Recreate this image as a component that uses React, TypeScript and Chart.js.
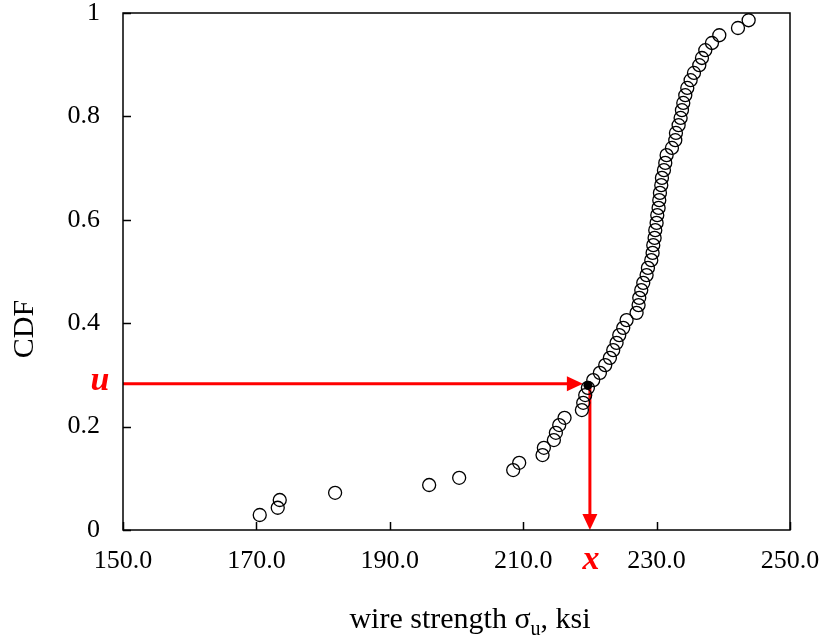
import { useEffect, useRef } from "react";
import { Chart, registerables } from "chart.js";

Chart.register(...registerables);

// Ranked wire-strength samples (ksi) and their empirical CDF values
const strength = [
  170.5, 173.2, 173.5, 181.8, 195.9, 200.4, 208.5, 209.4, 212.9, 213.1,
  214.6, 214.9, 215.4, 216.2, 218.8, 219.0, 219.3, 219.7, 220.5, 221.5,
  222.3, 223.0, 223.5, 224.0, 224.4, 225.0, 225.5, 227.0, 227.3, 227.4,
  227.7, 228.0, 228.5, 228.7, 229.2, 229.4, 229.5, 229.7, 229.8, 230.0,
  230.1, 230.3, 230.4, 230.5, 230.7, 230.8, 231.1, 231.3, 231.5, 232.3,
  232.8, 232.9, 233.3, 233.6, 233.8, 234.0, 234.3, 234.6, 235.1, 235.6,
  236.4, 236.8, 237.3, 238.3, 239.4, 242.2, 243.8,
];
const cdf = [
  0.029, 0.043, 0.058, 0.072, 0.087, 0.101, 0.116, 0.130, 0.145, 0.159,
  0.174, 0.188, 0.203, 0.217, 0.232, 0.246, 0.261, 0.275, 0.290, 0.304,
  0.319, 0.333, 0.348, 0.362, 0.377, 0.391, 0.406, 0.420, 0.435, 0.449,
  0.464, 0.478, 0.493, 0.507, 0.522, 0.536, 0.551, 0.565, 0.580, 0.594,
  0.609, 0.623, 0.638, 0.652, 0.667, 0.681, 0.696, 0.710, 0.725, 0.739,
  0.754, 0.768, 0.783, 0.797, 0.812, 0.826, 0.841, 0.855, 0.870, 0.884,
  0.899, 0.913, 0.928, 0.942, 0.957, 0.971, 0.986,
];

// Sample picked by inverse-transform lookup
const pickedStrength = [219.7];
const pickedCdf = [0.28];

// Uniform draw u and the resulting strength x
const uLevel = 0.283;
const xLevel = 220;

// Axis ranges
const xMin = 150;
const xMax = 250;
const xStep = 20;
const yMin = 0;
const yMax = 1;
const yStep = 0.2;

const SERIF = '"Liberation Serif", "Times New Roman", serif';
const RED = "#ff0000";

const frameAndArrows = {
  id: "frameAndArrows",
  beforeDatasetsDraw(chart: any) {
    const { ctx, chartArea: a, scales } = chart;
    const xs = scales.x;
    const ys = scales.y;
    const py = ys.getPixelForValue(uLevel);
    const px = xs.getPixelForValue(xLevel);
    const head = 16;
    const half = 7.5;
    ctx.save();
    ctx.strokeStyle = RED;
    ctx.fillStyle = RED;
    ctx.lineWidth = 3;
    // horizontal arrow from the CDF axis to the curve
    const tipX = px - 7;
    ctx.beginPath();
    ctx.moveTo(a.left, py);
    ctx.lineTo(tipX - head + 2, py);
    ctx.stroke();
    ctx.beginPath();
    ctx.moveTo(tipX, py);
    ctx.lineTo(tipX - head, py - half);
    ctx.lineTo(tipX - head, py + half);
    ctx.closePath();
    ctx.fill();
    // vertical arrow down to the strength axis
    ctx.beginPath();
    ctx.moveTo(px, py);
    ctx.lineTo(px, a.bottom - head + 2);
    ctx.stroke();
    ctx.beginPath();
    ctx.moveTo(px, a.bottom);
    ctx.lineTo(px - half, a.bottom - head);
    ctx.lineTo(px + half, a.bottom - head);
    ctx.closePath();
    ctx.fill();
    ctx.restore();
  },
  afterDraw(chart: any) {
    const { ctx, chartArea: a, scales } = chart;
    const xs = scales.x;
    const ys = scales.y;
    ctx.save();
    // plot frame
    ctx.strokeStyle = "#000";
    ctx.lineWidth = 1.5;
    ctx.strokeRect(a.left, a.top, a.right - a.left, a.bottom - a.top);
    // inward tick marks
    ctx.beginPath();
    xs.ticks.forEach((t: any) => {
      const p = Math.round(xs.getPixelForValue(t.value)) + 0.5;
      ctx.moveTo(p, a.bottom);
      ctx.lineTo(p, a.bottom - 8);
    });
    ys.ticks.forEach((t: any) => {
      const p = Math.round(ys.getPixelForValue(t.value)) + 0.5;
      ctx.moveTo(a.left, p);
      ctx.lineTo(a.left + 8, p);
    });
    ctx.stroke();

    // u and x markers
    const py = ys.getPixelForValue(uLevel);
    const px = xs.getPixelForValue(xLevel);
    ctx.fillStyle = RED;
    ctx.font = `italic bold 34px ${SERIF}`;
    ctx.textAlign = "center";
    ctx.textBaseline = "middle";
    ctx.fillText("u", a.left - 23, py - 2);
    ctx.fillText("x", px + 1, 560);

    // axis titles
    ctx.fillStyle = "#000";
    ctx.textBaseline = "alphabetic";
    ctx.textAlign = "left";
    const big = `30px ${SERIF}`;
    const small = `20px ${SERIF}`;
    const p1 = "wire strength σ";
    const p2 = "u";
    const p3 = ", ksi";
    ctx.font = big;
    const w1 = ctx.measureText(p1).width;
    const w3 = ctx.measureText(p3).width;
    ctx.font = small;
    const w2 = ctx.measureText(p2).width;
    const total = w1 + w2 + w3;
    const cx = 470;
    let sx = cx - total / 2;
    const base = 628;
    ctx.font = big;
    ctx.fillText(p1, sx, base);
    sx += w1;
    ctx.font = small;
    ctx.fillText(p2, sx, base + 7);
    sx += w2;
    ctx.font = big;
    ctx.fillText(p3, sx, base);

    ctx.translate(25, 329);
    ctx.rotate(-Math.PI / 2);
    ctx.textAlign = "center";
    ctx.textBaseline = "middle";
    ctx.font = big;
    ctx.fillText("CDF", 0, 0);
    ctx.restore();
  },
};

export default function App() {
  const ref = useRef<HTMLCanvasElement | null>(null);

  useEffect(() => {
    if (!ref.current) return;
    const samples = strength.map((s, i) => ({ x: s, y: cdf[i] }));
    const picked = pickedStrength.map((s, i) => ({ x: s, y: pickedCdf[i] }));
    const chart = new Chart(ref.current, {
      type: "scatter",
      data: {
        datasets: [
          {
            label: "picked",
            data: picked,
            pointRadius: 4.5,
            pointBorderWidth: 0,
            pointBackgroundColor: "#000",
            pointBorderColor: "#000",
          },
          {
            label: "samples",
            data: samples,
            pointRadius: 6.5,
            pointBorderWidth: 1.3,
            pointBackgroundColor: "rgba(0,0,0,0)",
            pointBorderColor: "#000",
          },
        ],
      },
      options: {
        animation: false,
        responsive: false,
        maintainAspectRatio: false,
        layout: { padding: { top: 13, right: 33, left: 0, bottom: 0 } },
        plugins: {
          legend: { display: false },
          tooltip: { enabled: false },
        },
        scales: {
          x: {
            type: "linear",
            min: xMin,
            max: xMax,
            afterFit(scale: any) {
              scale.height = 113;
              scale.paddingLeft = 0;
              scale.paddingRight = 0;
            },
            ticks: {
              stepSize: xStep,
              padding: 16,
              color: "#000",
              font: { family: SERIF, size: 26 },
              callback: (v: any) => Number(v).toFixed(1),
            },
            grid: { display: false, drawTicks: false, tickLength: 0 },
            border: { display: false },
          },
          y: {
            type: "linear",
            min: yMin,
            max: yMax,
            afterFit(scale: any) {
              scale.width = 123;
              scale.paddingTop = 0;
              scale.paddingBottom = 0;
            },
            ticks: {
              stepSize: yStep,
              padding: 23,
              color: "#000",
              font: { family: SERIF, size: 26 },
              callback: (v: any) => {
                const n = Number(v);
                return n === 0 || n === 1 ? String(n) : n.toFixed(1);
              },
            },
            grid: { display: false, drawTicks: false, tickLength: 0 },
            border: { display: false },
          },
        },
      },
      plugins: [frameAndArrows],
    });
    return () => chart.destroy();
  }, []);

  return (
    <div style={{ position: "fixed", left: 0, top: 0, width: 823, height: 643, background: "#fff" }}>
      <canvas ref={ref} width={823} height={643} style={{ display: "block", width: 823, height: 643 }} />
    </div>
  );
}
